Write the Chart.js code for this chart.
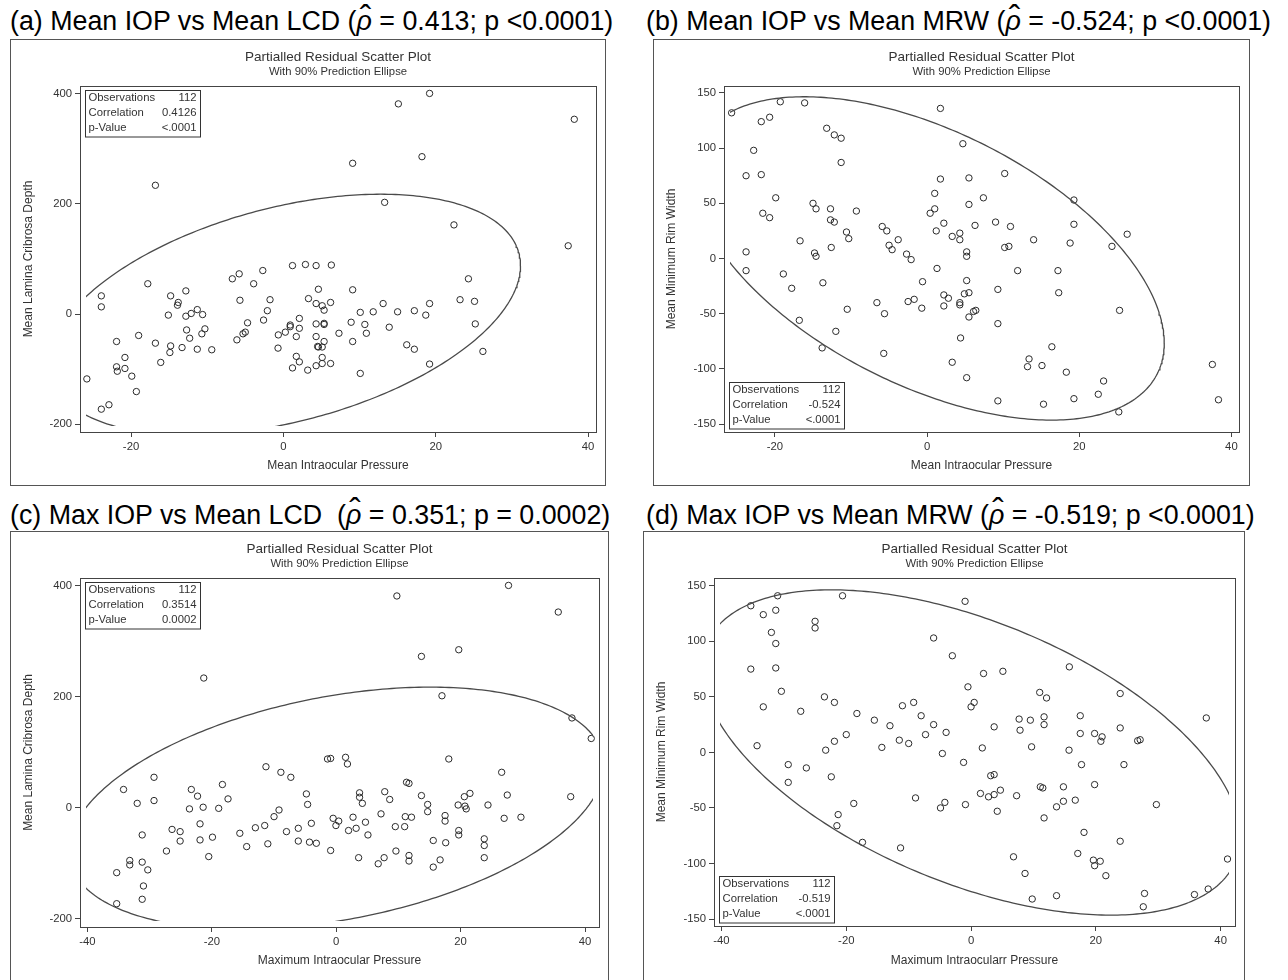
<!DOCTYPE html>
<html>
<head>
<meta charset="utf-8">
<script src="https://cdn.jsdelivr.net/npm/chart.js@4.4.1/dist/chart.umd.min.js"></script>
<style>
body { margin: 0; background: #fff; width: 1288px; height: 980px; position: relative; overflow: hidden; font-family: "Liberation Sans", Arial, sans-serif; }
.ttl { position: absolute; font-size: 26.8px; line-height: 26.8px; white-space: pre; color: #000; }
.rho { position: relative; display: inline-block; font-style: italic; }
.hat { position: absolute; left: 0.08em; right: 0; top: -0.22em; text-align: center; font-style: normal; font-size: 1.3em; line-height: 1; }
canvas { position: absolute; }
</style>
</head>
<body>
<div class="ttl" style="left:10px;top:8.3px">(a) Mean IOP vs Mean LCD (<span class="rho">ρ<span class="hat">ˆ</span></span> = 0.413; p &lt;0.0001)</div>
<div class="ttl" style="left:646px;top:8.3px">(b) Mean IOP vs Mean MRW (<span class="rho">ρ<span class="hat">ˆ</span></span> = -0.524; p &lt;0.0001)</div>
<div class="ttl" style="left:10px;top:501.8px">(c) Max IOP vs Mean LCD  (<span class="rho">ρ<span class="hat">ˆ</span></span> = 0.351; p = 0.0002)</div>
<div class="ttl" style="left:646px;top:501.8px">(d) Max IOP vs Mean MRW (<span class="rho">ρ<span class="hat">ˆ</span></span> = -0.519; p &lt;0.0001)</div>
<script>
// (a) partial residuals: mean IOP vs mean LCD
const meanIopA = [-16.8, -25.8, -23.9, -23.9, -23.9, -22.9, -17.8, -21.9, -20.8, -21.9, -21.8, -20.8, -19.9, -19.3, -19.0,
  -16.8, -16.1, -15.1, -14.8, -14.8, -14.9, -13.8, -13.9, -13.3, -12.8, -12.8, -12.7, -12.3, -12.1, -11.3, -11.3, -10.7,
  -10.6, -10.3, -9.4, -6.7, -5.8, -5.7, -6.1, -5.3, -5.0, -4.7, -3.9, -2.7, -2.6, -2.1, -1.75, -0.7, -0.66, 0.26, 0.9,
  0.9, 1.2, 1.2, 1.7, 1.7, 2.1, 2.1, 2.1, 2.9, 3.2, 3.3, 4.3, 4.3, 4.3, 4.3, 4.3, 4.5, 4.6,
  6.3, 5.1, 5.35, 6.2, 5.35, 5.35, 5.35, 4.6, 5.1, 5.1, 5.1, 6.2, 9.1, 9.1, 8.9, 9.1, 10.1, 10.7, 10.9, 10.1, 7.3, 11.8,
  13.1, 13.3, 13.9, 15.0, 15.1, 16.2, 17.2, 17.2, 18.2, 18.7, 19.2, 19.2, 19.2, 22.4, 23.2, 24.3, 25.1, 25.2, 26.2, 37.4, 38.2];
const lcdA = [234, -118, 33, 13, -173, -165, 55, -50, -79, -96, -104, -99, -113, -141, -39,
  -53, -88, -2, 33, -58, -70, 21, 16, -61, 42, -4, -29, -44, 1, 8, -64, -36,
  -1, -27, -65, 64, 73, 25, -47, -36, -33, -16, 55, 79, -11, 6, 26, -62, -38, -33, -20,
  -23, 88, -98, -41, -77, -8, -26, -87, 90, -102, 28, 88, 19, -18, -41, -94, -59, 45,
  89, 15, 7, 21, -17, -19, -50, -60, -60, -79, -90, -90, 274, 44, -15, -50, 3, -19, -35, -108, -35, 4,
  19, 203, -24, 4, 382, -56, -64, 6, 286, -2, 401, 19, -91, 162, 26, 64, 23, -18, -68, 124, 354];

// (b) partial residuals: mean IOP vs mean MRW
const meanIopB = [-25.7, -19.3, -16.1, -21.8, -20.7, -22.8, -23.8, -21.8, -19.9, -21.6, -20.7, -23.8, -23.8, -18.9, -17.8,
  -16.7, -16.8, -15.0, -14.6, -14.8, -14.6, -13.8, -13.7, -13.2, -12.2, -11.3, -11.3, -12.7, -12.7, -12.2, -12.6, -12.0,
  -10.6, -10.3, -9.3, -10.5, -6.6, -5.6, -5.7, -5.9, -5.3, -5.0, -4.6, -3.8, -2.7, -2.1, -0.6, -2.5, -1.7, -0.7, 0.4,
  1.0, 1.0, 1.75, 1.75, 1.2, 2.2, 1.3, 2.2, 2.2, 2.8,
  3.3, 4.3, 4.3, 5.2, 5.2, 4.7, 5.5, 5.5, 6.3, 7.4, 9.0, 10.2, 10.96, 10.2, 10.75, 5.2, 4.9, 5.5, 4.3, 4.3, 5.5, 6.1,
  6.4, 4.4, 3.3, 5.2, 9.3, 9.3, 9.3, 11.9, 14.0, 13.2, 13.4, 15.1, 15.3, 17.2, 17.3, 16.4, 18.3, 18.8, 19.3, 19.3, 19.3,
  22.5, 23.2, 24.3, 26.3, 25.3, 25.2, 37.5, 38.3];
const mrwB = [132, 142, 141, 124, 128, 98, 75, 76, 55, 41, 37, 6, -11, -14, -27,
  16, -56, 50, 45, 5, 2, -81, -22, 118, 112, 109, 87, 45, 35, 33, 10, -66,
  24, 18, 43, -46, -40, -50, -86, 29, 25, 12, 8, 17, 4, -1, -21, -39, -37, -45, 41,
  45, 59, 72, 136, 25, 32, -9, -33, -43, -36,
  20, 23, 17, 6, 2, 104, 73, 49, 30, 55, 33, 77, 29, 10, 11, -20, -32, -31, -40, -42, -53, -48,
  -47, -72, -94, -108, -28, -59, -129, -11, 17, -98, -91, -97, -132, -11, -31, -80, -103, 14, 31, 53, -127,
  -123, -111, 11, 22, -47, -139, -96, -128];

// (c) partial residuals: max IOP vs mean LCD
const maxIopC = [-21.3, -34.2, -32.0, -29.3, -29.3, -35.3, -35.3, -33.2, -33.2, -31.2, -31.2, -30.3, -31.0, -31.2, -27.3,
  -26.4, -25.1, -25.1, -23.6, -23.3, -22.3, -21.9, -21.9, -21.4, -20.5, -19.9, -18.9, -18.3, -17.4, -15.5, -14.4, -13.0,
  -11.5, -11.3, -11.0, -10.0, -9.2, -8.9, -8.0, -7.3, -6.1, -6.1, -4.8, -4.6, -4.0, -4.3, -3.2,
  9.75, 27.7, 35.7, 13.7, 19.7, 17.0, 37.9, 41.0, -1.4, -0.9, 1.5, 1.8, 18.1, 26.6, 11.3, 11.7, 3.75, 3.75, 4.2, 7.8,
  8.6, 13.7, 14.7, 14.7, 19.6, 20.6, 21.5, 20.7, 20.9, 24.4, 27.5, 37.7, 27.0, 29.7, -0.5, -0.05, 0.4, 1.98, 2.7, 3.2,
  4.7, 5.1, 7.2, 9.5, 11.0, 11.1, 12.1, 17.5, 17.5, 19.7, 19.7, 23.8, 23.8, 23.8, 15.6, 17.6, -0.9, 3.6, 6.75, 7.7,
  9.6, 11.7, 11.7, 15.6, 16.7];
const lcdC = [234, 33, 8, 55, 13, -117, -173, -95, -103, -49, -98, -112, -141, -165, -78,
  -39, -43, -60, -2, 33, 21, -29, -58, 1, -88, -53, -1, 42, 16, -46, -70, -36,
  -32, 74, -65, -16, -4, 64, -43, 55, -37, -60, 25, 6, -28, -62, -64,
  382, 401, 353, 273, 285, 202, 162, 125, 88, 89, 91, 79, 88, 64, 46, 44, 27, 19, 8, 29,
  15, 22, 6, -7, 5, 20, 26, 3, -2, 5, 23, 20, -19, -17, -19, -32, -24, -41, -17, -37,
  -26, -49, -11, -34, -34, -16, -17, -14, -24, -41, -49, -56, -68, -90, -59, -63, -77, -90, -101, -90,
  -78, -86, -96, -107, -94];

// (d) partial residuals: max IOP vs mean MRW
const maxIopD = [-35.3, -33.3, -31.0, -31.3, -32.0, -31.3, -35.3, -31.3, -30.4, -33.3, -34.3, -29.3, -29.3, -26.4, -27.3,
  -25.0, -25.0, -20.6, -23.5, -21.9, -23.3, -21.9, -22.4, -21.3, -21.5, -20.0, -18.3, -18.8, -17.4, -15.5, -14.3, -13.0,
  -11.5, -11.3, -11.0, -10.0, -9.2, -8.9, -8.0, -7.3, -6.0, -6.0, -4.6, -4.9, -4.2, -4.0,
  -0.96, -3.0, 2.0, 5.1, 15.75, -0.5, 0.5, 0.0, 11.0, 12.1, 23.9, 37.7, 3.7, 7.7, 7.85, 9.5, 11.7, 11.7, 17.5, 17.5,
  19.8, 21.0, 20.8, 23.9, 26.7, 27.1, 1.8, 9.7, 15.7, -1.2, 17.7, 24.5, 3.15, 3.7, 1.5, 2.8, 3.7, 4.7, 7.3, 11.1,
  11.5, 14.8, 14.8, 13.7, 16.7, 19.8, -0.9, 4.2, 11.7, 29.7, 18.1, 23.9, 6.8, 17.1, 19.6, 20.7, 19.8, 21.6, 8.65, 9.8,
  13.7, 27.8, 27.6, 35.8, 38.0, 41.1];
const mrwD = [132, 124, 141, 128, 108, 98, 75, 76, 55, 41, 6, -11, -27, -14, 37,
  118, 112, 141, 50, 45, 2, 10, -22, -56, -66, 16, 35, -46, -81, 29, 4.5, 24,
  11, -86, 42, 8, 45, -41, 33, 16, 103, 25, -1, -50, -45, 18,
  136, 87, 71, 73, 77, 59, 45, 41, 54, 49, 53, 31, 23, 30, 20, 29, 32, 25, 33, 17,
  17, 14, 10, 22, 10.5, 11.4, 4, 5, 2, -9, -11, -11, -21, -20, -37, -40, -38, -34, -39, -31,
  -32, -31, -44, -49, -43, -29, -47, -53, -59, -47, -72, -80, -94, -91, -97, -98, -102, -111, -109, -132,
  -129, -127, -139, -128, -123, -96];

// tick labels
const xTicksMean = [-20, 0, 20, 40];
const xTicksMax = [-40, -20, 0, 20, 40];
const yTicksLCD = [-200, 0, 200, 400];
const yTicksMRW = [-150, -100, -50, 0, 50, 100, 150];

const insetLabels = ['Observations', 'Correlation', 'p-Value'];
const insetA = ['112', '0.4126', '<.0001'];
const insetB = ['112', '-0.524', '<.0001'];
const insetC = ['112', '0.3514', '0.0002'];
const insetD = ['112', '-0.519', '<.0001'];

const FONT = '"Liberation Sans", Arial, sans-serif';
const INK = '#333';

// 90% prediction ellipse from sample mean and covariance (bivariate normal, F quantile)
function predictionEllipse(xs, ys, level) {
    const n = xs.length;
    const mx = xs.reduce((a, b) => a + b, 0) / n;
    const my = ys.reduce((a, b) => a + b, 0) / n;
    let sxx = 0, syy = 0, sxy = 0;
    for (let i = 0; i < n; i++) {
        sxx += (xs[i] - mx) ** 2;
        syy += (ys[i] - my) ** 2;
        sxy += (xs[i] - mx) * (ys[i] - my);
    }
    sxx /= n - 1; syy /= n - 1; sxy /= n - 1;
    const m = n - 2;
    const fq = (m / 2) * (Math.pow(1 - level, -2 / m) - 1);
    const c = Math.sqrt(2 * (n + 1) * (n - 1) / (n * m) * fq);
    const l11 = Math.sqrt(sxx), l21 = sxy / l11, l22 = Math.sqrt(syy - l21 * l21);
    const out = [];
    for (let k = 0; k <= 360; k++) {
        const t = k / 360 * 2 * Math.PI;
        out.push({ x: mx + c * l11 * Math.cos(t), y: my + c * (l21 * Math.cos(t) + l22 * Math.sin(t)) });
    }
    return out;
}

// frame, headings and the statistics box
const panelDecor = {
    id: 'panelDecor',
    afterDraw(chart, args, o) {
        const { ctx, chartArea: ca, width, height } = chart;
        ctx.save();
        ctx.strokeStyle = '#555';
        ctx.lineWidth = 1;
        ctx.strokeRect(0.5, 0.5, width - 1, height - 1 + o.extendBottom);
        ctx.strokeStyle = '#444';
        ctx.strokeRect(Math.round(ca.left) + 0.5, Math.round(ca.top) + 0.5, Math.round(ca.width), Math.round(ca.height));

        const cx = (ca.left + ca.right) / 2;
        ctx.fillStyle = INK;
        ctx.textAlign = 'center';
        ctx.textBaseline = 'middle';
        ctx.font = '13.5px ' + FONT;
        ctx.fillText('Partialled Residual Scatter Plot', cx, 18.3);
        ctx.font = '11.3px ' + FONT;
        ctx.fillText('With 90% Prediction Ellipse', cx, 33);

        const bw = 115, bh = 46.5;
        const bx = Math.round(ca.left + 5);
        const by = o.insetAtTop ? Math.round(ca.top + 4) : Math.round(ca.bottom - 4 - bh);
        ctx.fillStyle = '#fff';
        ctx.fillRect(bx, by, bw, bh);
        ctx.strokeStyle = '#333';
        ctx.strokeRect(bx + 0.5, by + 0.5, bw, bh);
        ctx.fillStyle = INK;
        ctx.font = '11.3px ' + FONT;
        insetLabels.forEach((lab, i) => {
            const ty = by + 7.5 + 15 * i;
            ctx.textAlign = 'left';
            ctx.fillText(lab, bx + 3.5, ty);
            ctx.textAlign = 'right';
            ctx.fillText(o.values[i], bx + bw - 3.5, ty);
        });
        ctx.restore();
    }
};

function makePanel(p) {
    const cv = document.createElement('canvas');
    cv.width = p.w;
    cv.height = p.h;
    cv.style.left = p.left + 'px';
    cv.style.top = p.top + 'px';
    document.body.appendChild(cv);

    const points = p.xs.map((x, i) => ({ x: x, y: p.ys[i] }));
    const axisCommon = {
        type: 'linear',
        grid: { drawOnChartArea: false, drawTicks: true, tickLength: 5, color: '#444', lineWidth: 1 },
        border: { display: true, color: '#444', width: 1 },
        ticks: { font: { family: FONT, size: 11.3 }, color: INK, padding: 3 }
    };

    return new Chart(cv, {
        type: 'scatter',
        data: {
            datasets: [{
                data: predictionEllipse(p.xs, p.ys, 0.9),
                showLine: true,
                pointRadius: 0,
                borderColor: '#4a4a4a',
                borderWidth: 1.3,
                fill: false,
                tension: 0,
                clip: -6   // the ellipse stops a few pixels inside the frame
            }, {
                data: points,
                pointStyle: 'circle',
                pointRadius: 3.2,
                pointHoverRadius: 3.2,
                borderColor: '#2a2a2a',
                backgroundColor: 'rgba(0,0,0,0)',
                borderWidth: 1
            }]
        },
        options: {
            responsive: false,
            animation: false,
            events: [],
            layout: { padding: { top: 47, right: p.padRight, left: 0, bottom: 0 } },
            plugins: {
                legend: { display: false },
                tooltip: { enabled: false },
                panelDecor: { values: p.inset, insetAtTop: p.insetAtTop, extendBottom: p.extendBottom || 0 }
            },
            scales: {
                x: {
                    ...axisCommon,
                    min: p.xMin,
                    max: p.xMax,
                    afterFit: (s) => { s.height = p.xAxisH; },
                    afterBuildTicks: (s) => { s.ticks = p.xTicks.map(v => ({ value: v })); },
                    title: { display: true, text: p.xTitle, color: INK, font: { family: FONT, size: 12 },
                             padding: { top: 0, bottom: p.h - p.xTitleY - 7.2 } }
                },
                y: {
                    ...axisCommon,
                    min: p.yMin,
                    max: p.yMax,
                    afterFit: (s) => { s.width = p.yAxisW; },
                    afterBuildTicks: (s) => { s.ticks = p.yTicks.map(v => ({ value: v })); },
                    title: { display: true, text: p.yTitle, color: INK, font: { family: FONT, size: 12 },
                             padding: { top: 11, bottom: 0 } }
                }
            }
        },
        plugins: [panelDecor]
    });
}

makePanel({ left: 10, top: 39, w: 596, h: 447, padRight: 10, yAxisW: 70, xAxisH: 54, xTitleY: 427,
    xs: meanIopA, ys: lcdA, xMin: -26.7, xMax: 41.05, yMin: -214.5, yMax: 414.5,
    xTicks: xTicksMean, yTicks: yTicksLCD, xTitle: 'Mean Intraocular Pressure', yTitle: 'Mean Lamina Cribrosa Depth',
    inset: insetA, insetAtTop: true });

makePanel({ left: 653, top: 39, w: 597, h: 447, padRight: 11, yAxisW: 71, xAxisH: 54, xTitleY: 427,
    xs: meanIopB, ys: mrwB, xMin: -26.7, xMax: 41.0, yMin: -157.2, yMax: 156.3,
    xTicks: xTicksMean, yTicks: yTicksMRW, xTitle: 'Mean Intraocular Pressure', yTitle: 'Mean Minimum Rim Width',
    inset: insetB, insetAtTop: false });

makePanel({ left: 10, top: 531, w: 599, h: 449, padRight: 10, yAxisW: 70, xAxisH: 53, xTitleY: 430,
    xs: maxIopC, ys: lcdC, xMin: -41.2, xMax: 42.25, yMin: -215, yMax: 414.4,
    xTicks: xTicksMax, yTicks: yTicksLCD, xTitle: 'Maximum Intraocular Pressure', yTitle: 'Mean Lamina Cribrosa Depth',
    inset: insetC, insetAtTop: true, extendBottom: 4 });

makePanel({ left: 643, top: 531, w: 602, h: 449, padRight: 10, yAxisW: 71, xAxisH: 54, xTitleY: 430,
    xs: maxIopD, ys: mrwD, xMin: -41.2, xMax: 42.3, yMin: -156.3, yMax: 157,
    xTicks: xTicksMax, yTicks: yTicksMRW, xTitle: 'Maximum Intraocularr Pressure', yTitle: 'Mean Minimum Rim Width',
    inset: insetD, insetAtTop: false, extendBottom: 4 });
</script>
</body>
</html>
